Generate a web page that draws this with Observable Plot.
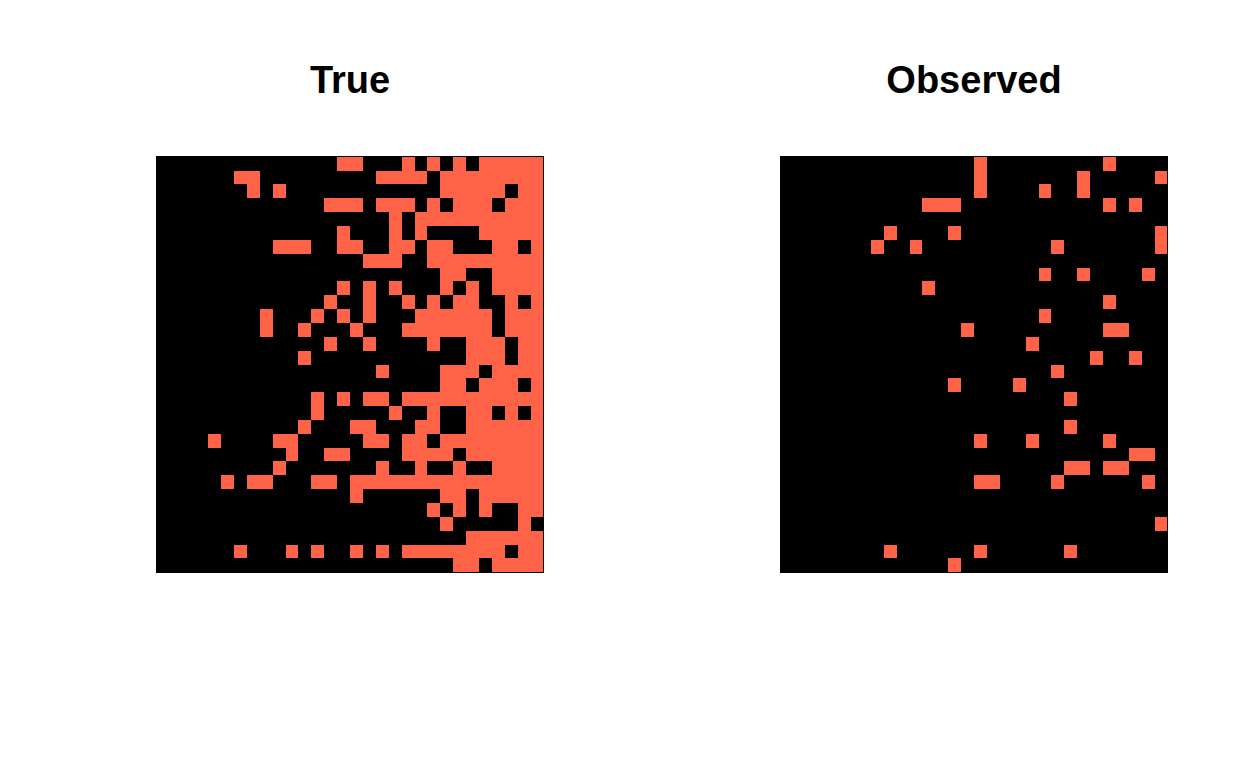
<!DOCTYPE html>
<html>
<head>
<meta charset="utf-8">
<script src="https://cdn.jsdelivr.net/npm/d3@7"></script>
<script src="https://cdn.jsdelivr.net/npm/@observablehq/plot@0.6"></script>
<style>
html,body{margin:0;padding:0;background:#fff;width:1248px;height:768px;overflow:hidden}
#wrap{display:flex;width:1248px;height:768px}
#wrap svg{display:block;flex:none}
</style>
</head>
<body>
<div id="wrap"></div>
<script>
const titles = ["True", "Observed"];
const cellColor = "#ff6347";
// For each of the 30 rows (top to bottom): the columns (0-29) that are coloured.
const trueRows = [
[14,15,19,21,23,25,26,27,28,29],
[6,7,17,18,19,20,22,23,24,25,26,27,28,29],
[7,9,22,23,24,25,26,28,29],
[13,14,15,17,18,19,21,23,24,25,27,28,29],
[18,20,21,22,23,24,25,26,27,28,29],
[14,18,20,25,26,27,28,29],
[9,10,11,14,15,18,19,21,22,26,27,29],
[16,17,18,21,22,23,24,25,26,27,28,29],
[22,23,26,27,28,29],
[14,16,18,22,24,26,27,28,29],
[13,16,19,21,23,24,27,29],
[8,12,14,16,20,21,22,23,24,25,27,28,29],
[8,11,15,19,20,21,22,23,24,25,27,28,29],
[13,16,21,24,25,26,28,29],
[11,24,25,26,28,29],
[17,22,23,24,26,27,28,29],
[22,23,25,26,27,29],
[12,14,16,17,19,20,21,22,23,24,25,26,27,28,29],
[12,18,21,24,25,27,29],
[11,15,16,20,21,24,25,26,27,28,29],
[4,9,10,16,17,19,20,22,23,24,25,26,27,28,29],
[10,13,14,19,20,21,22,24,25,26,27,28,29],
[9,17,20,23,26,27,28,29],
[5,7,8,12,13,15,16,17,18,19,20,21,22,23,24,25,26,27,28,29],
[15,22,23,25,26,27,28,29],
[21,23,25,28,29],
[22,28],
[24,25,26,27,28,29],
[6,10,12,15,17,19,20,21,22,23,24,25,26,28,29],
[23,24,26,27,28,29]
];
const observedRows = [
[15,25],
[15,23,29],
[15,20,23],
[11,12,13,25,27],
[],
[8,13,29],
[7,10,21,29],
[],
[20,23,28],
[11],
[25],
[20],
[14,25,26],
[19],
[24,27],
[21],
[13,18],
[22],
[],
[22],
[15,19,25],
[27,28],
[22,23,25,26],
[15,16,21,28],
[],
[],
[29],
[],
[8,15,22],
[13]
];

function panel(title, rows) {
  const cells = rows.flatMap((cols, y) => cols.map(x => ({x, y})));
  return Plot.plot({
    width: 624, height: 768,
    marginLeft: 156, marginRight: 81, marginTop: 156, marginBottom: 196,
    style: {background: "white"},
    x: {type: "band", domain: d3.range(30), padding: 0, round: false, axis: null, range: [156.7, 543.4]},
    y: {type: "band", domain: d3.range(30), padding: 0, round: false, axis: null, range: [156.7, 572.3]},
    marks: [
      Plot.frame({fill: "black", stroke: "none", shapeRendering: "crispEdges"}),
      Plot.cell(cells, {x: "x", y: "y", fill: cellColor, inset: 0, shapeRendering: "crispEdges"}),
      Plot.frame({stroke: "black", strokeWidth: 1, shapeRendering: "crispEdges"}),
      Plot.text([title], {frameAnchor: "top", dy: -76, text: d => d, fontFamily: "Liberation Sans", fontWeight: "bold", fontSize: 38, fill: "black", lineAnchor: "middle"})
    ]
  });
}
const wrap = document.getElementById("wrap");
wrap.append(panel(titles[0], trueRows), panel(titles[1], observedRows));
</script>
</body>
</html>
